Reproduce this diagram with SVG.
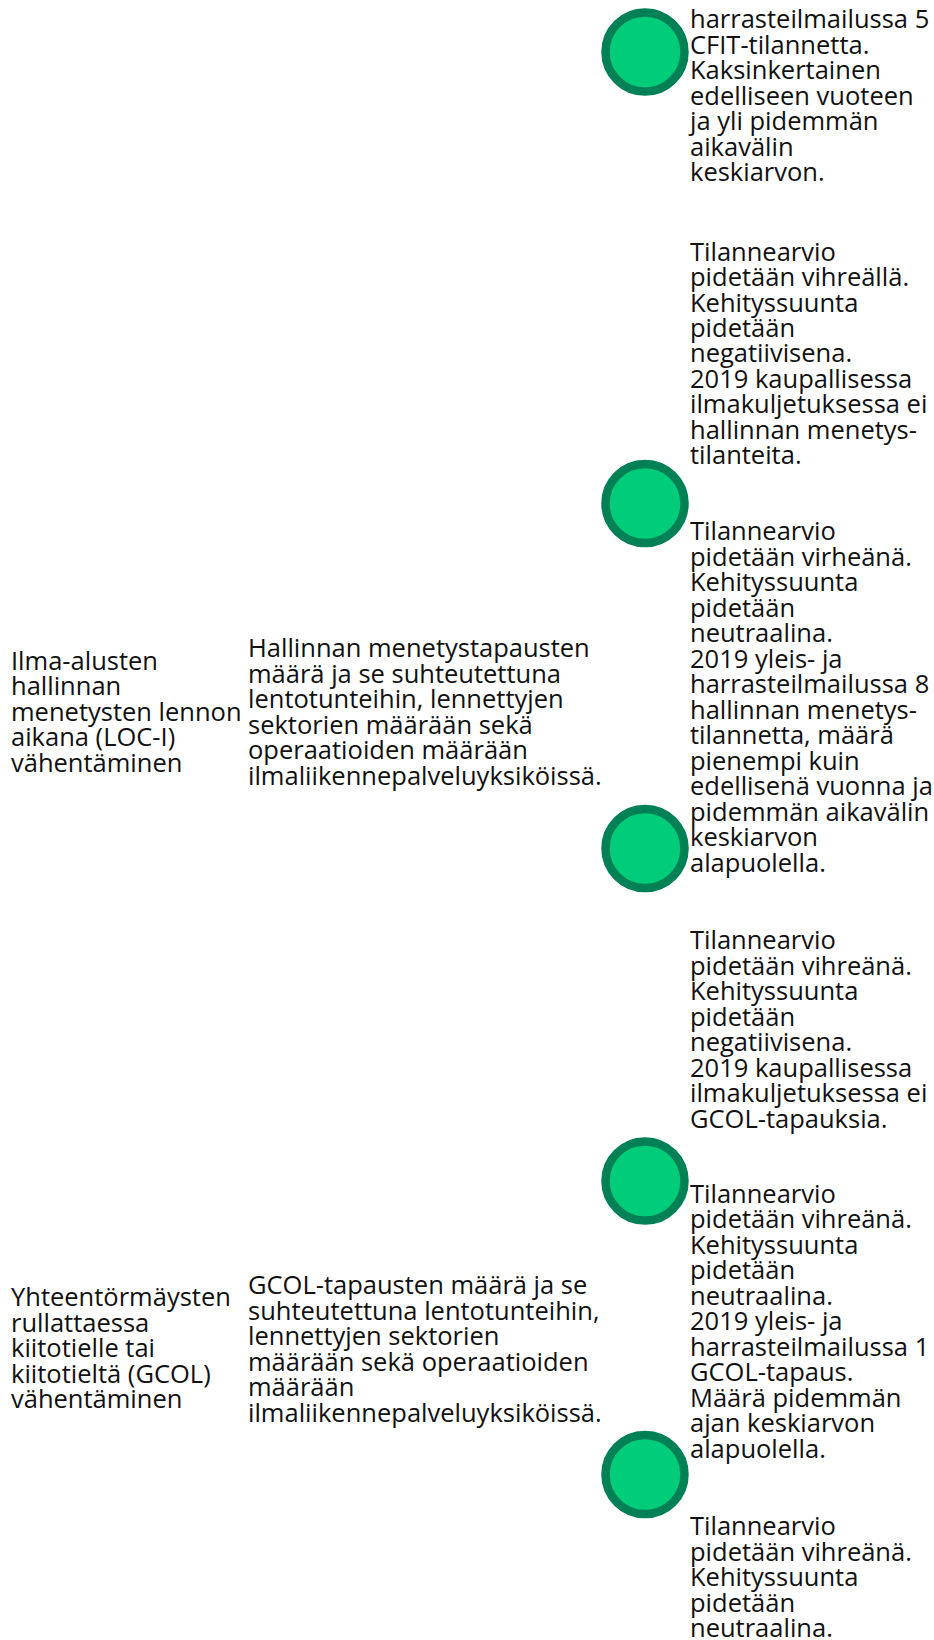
<svg xmlns="http://www.w3.org/2000/svg" width="934" height="1640" viewBox="0 0 934 1640">
<style>
.t{font-family:"Open Sans","Noto Sans","Liberation Sans",sans-serif;font-size:25.5px;fill:#111;}
.dot{fill:#00CC7A;stroke:#008055;stroke-width:8.5;}
</style>
<rect width="934" height="1640" fill="#fff"/>
<g id="connectors"></g>
<g id="goal-loci">
<text class="t" x="11" y="669.5"><tspan x="11">Ilma-alusten</tspan><tspan x="11" dy="25.5">hallinnan</tspan><tspan x="11" dy="25.5">menetysten lennon</tspan><tspan x="11" dy="25.5">aikana (LOC-I)</tspan><tspan x="11" dy="25.5">vähentäminen</tspan></text>
</g>
<g id="metric-loci">
<text class="t" x="248" y="657"><tspan x="248">Hallinnan menetystapausten</tspan><tspan x="248" dy="25.5">määrä ja se suhteutettuna</tspan><tspan x="248" dy="25.5">lentotunteihin, lennettyjen</tspan><tspan x="248" dy="25.5">sektorien määrään sekä</tspan><tspan x="248" dy="25.5">operaatioiden määrään</tspan><tspan x="248" dy="25.5">ilmaliikennepalveluyksiköissä.</tspan></text>
</g>
<g id="goal-gcol">
<text class="t" x="11" y="1306"><tspan x="11">Yhteentörmäysten</tspan><tspan x="11" dy="25.5">rullattaessa</tspan><tspan x="11" dy="25.5">kiitotielle tai</tspan><tspan x="11" dy="25.5">kiitotieltä (GCOL)</tspan><tspan x="11" dy="25.5">vähentäminen</tspan></text>
</g>
<g id="metric-gcol">
<text class="t" x="248" y="1294"><tspan x="248">GCOL-tapausten määrä ja se</tspan><tspan x="248" dy="25.5">suhteutettuna lentotunteihin,</tspan><tspan x="248" dy="25.5">lennettyjen sektorien</tspan><tspan x="248" dy="25.5">määrään sekä operaatioiden</tspan><tspan x="248" dy="25.5">määrään</tspan><tspan x="248" dy="25.5">ilmaliikennepalveluyksiköissä.</tspan></text>
</g>
<g id="status-1">
<circle class="dot" cx="645" cy="52" r="39.5"/>
<text class="t" x="690" y="28.3"><tspan x="690">harrasteilmailussa 5</tspan><tspan x="690" dy="25.5">CFIT-tilannetta.</tspan><tspan x="690" dy="25.5">Kaksinkertainen</tspan><tspan x="690" dy="25.5">edelliseen vuoteen</tspan><tspan x="690" dy="25.5">ja yli pidemmän</tspan><tspan x="690" dy="25.5">aikavälin</tspan><tspan x="690" dy="25.5">keskiarvon.</tspan></text>
</g>
<g id="status-2">
<circle class="dot" cx="645" cy="503.5" r="39.5"/>
<text class="t" x="690" y="260.7"><tspan x="690">Tilannearvio</tspan><tspan x="690" dy="25.4">pidetään vihreällä.</tspan><tspan x="690" dy="25.4">Kehityssuunta</tspan><tspan x="690" dy="25.4">pidetään</tspan><tspan x="690" dy="25.4">negatiivisena.</tspan><tspan x="690" dy="25.4">2019 kaupallisessa</tspan><tspan x="690" dy="25.4">ilmakuljetuksessa ei</tspan><tspan x="690" dy="25.4">hallinnan menetys-</tspan><tspan x="690" dy="25.4">tilanteita.</tspan></text>
</g>
<g id="status-3">
<circle class="dot" cx="645" cy="848.5" r="39.5"/>
<text class="t" x="690" y="540"><tspan x="690">Tilannearvio</tspan><tspan x="690" dy="25.5">pidetään virheänä.</tspan><tspan x="690" dy="25.5">Kehityssuunta</tspan><tspan x="690" dy="25.5">pidetään</tspan><tspan x="690" dy="25.5">neutraalina.</tspan><tspan x="690" dy="25.5">2019 yleis- ja</tspan><tspan x="690" dy="25.5">harrasteilmailussa 8</tspan><tspan x="690" dy="25.5">hallinnan menetys-</tspan><tspan x="690" dy="25.5">tilannetta, määrä</tspan><tspan x="690" dy="25.5">pienempi kuin</tspan><tspan x="690" dy="25.5">edellisenä vuonna ja</tspan><tspan x="690" dy="25.5">pidemmän aikavälin</tspan><tspan x="690" dy="25.5">keskiarvon</tspan><tspan x="690" dy="25.5">alapuolella.</tspan></text>
</g>
<g id="status-4">
<circle class="dot" cx="645" cy="1181" r="39.5"/>
<text class="t" x="690" y="949.3"><tspan x="690">Tilannearvio</tspan><tspan x="690" dy="25.5">pidetään vihreänä.</tspan><tspan x="690" dy="25.5">Kehityssuunta</tspan><tspan x="690" dy="25.5">pidetään</tspan><tspan x="690" dy="25.5">negatiivisena.</tspan><tspan x="690" dy="25.5">2019 kaupallisessa</tspan><tspan x="690" dy="25.5">ilmakuljetuksessa ei</tspan><tspan x="690" dy="25.5">GCOL-tapauksia.</tspan></text>
</g>
<g id="status-5">
<circle class="dot" cx="645" cy="1474.5" r="39.5"/>
<text class="t" x="690" y="1202.8"><tspan x="690">Tilannearvio</tspan><tspan x="690" dy="25.5">pidetään vihreänä.</tspan><tspan x="690" dy="25.5">Kehityssuunta</tspan><tspan x="690" dy="25.5">pidetään</tspan><tspan x="690" dy="25.5">neutraalina.</tspan><tspan x="690" dy="25.5">2019 yleis- ja</tspan><tspan x="690" dy="25.5">harrasteilmailussa 1</tspan><tspan x="690" dy="25.5">GCOL-tapaus.</tspan><tspan x="690" dy="25.5">Määrä pidemmän</tspan><tspan x="690" dy="25.5">ajan keskiarvon</tspan><tspan x="690" dy="25.5">alapuolella.</tspan></text>
</g>
<g id="status-6">
<text class="t" x="690" y="1535"><tspan x="690">Tilannearvio</tspan><tspan x="690" dy="25.5">pidetään vihreänä.</tspan><tspan x="690" dy="25.5">Kehityssuunta</tspan><tspan x="690" dy="25.5">pidetään</tspan><tspan x="690" dy="25.5">neutraalina.</tspan></text>
</g>
</svg>
